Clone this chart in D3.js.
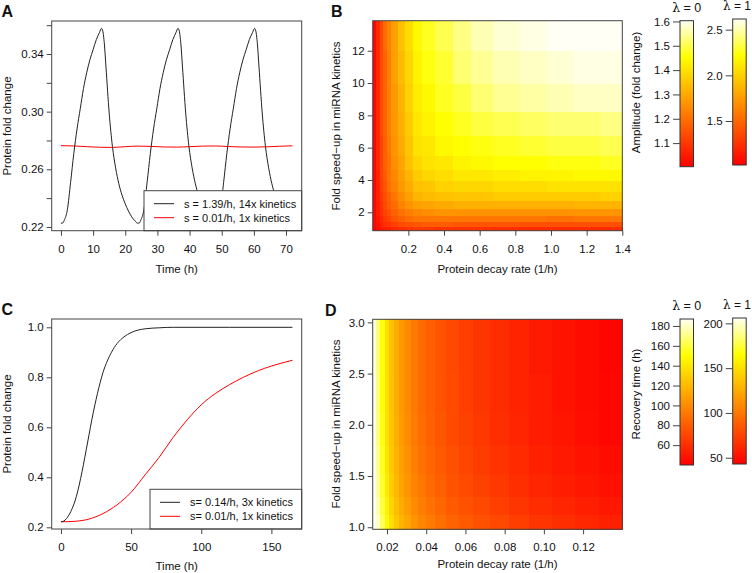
<!DOCTYPE html>
<html>
<head>
<meta charset="utf-8">
<title>miRNA kinetics panels</title>
<script src="https://cdn.jsdelivr.net/npm/d3@7"></script>
<style>
body { margin: 0; background: #fff; }
text { font-family: "Liberation Sans", Arial, Helvetica, sans-serif; font-size: 11.5px; fill: #111; }
.frame { fill: none; stroke: #444; stroke-width: 1; }
.letter { font-weight: bold; font-size: 16px; }
.legtext { font-size: 11px; }
</style>
</head>
<body>
<svg id="fig" width="752" height="573"></svg>
<script>
// ---- panel A: oscillating protein level ----
var aFast = [
  [0,0.2226],[0.6,0.2228],[1,0.2245],[2,0.232],[3,0.251],[4,0.271],[5,0.288],[6,0.302],[7,0.316],[8,0.327],[9,0.336],[10,0.343],[11,0.350],[12,0.355],[12.6,0.3578],[13,0.356],[13.5,0.347],[14,0.331],[15,0.299],[16,0.276],[17,0.261],[18,0.250],[19,0.242],[20,0.236],[21,0.231],[22,0.227],[23,0.2243],
  [23.8,0.2226],[24.4,0.2228],[24.8,0.2245],[25.8,0.232],[26.8,0.251],[27.8,0.271],[28.8,0.288],[29.8,0.302],[30.8,0.316],[31.8,0.327],[32.8,0.336],[33.8,0.343],[34.8,0.350],[35.8,0.355],[36.4,0.3578],[36.8,0.356],[37.3,0.347],[37.8,0.331],[38.8,0.299],[39.8,0.276],[40.8,0.261],[41.8,0.250],[42.8,0.242],[43.8,0.236],[44.8,0.231],[45.8,0.227],[46.8,0.2243],
  [47.6,0.2226],[48.2,0.2228],[48.6,0.2245],[49.6,0.232],[50.6,0.251],[51.6,0.271],[52.6,0.288],[53.6,0.302],[54.6,0.316],[55.6,0.327],[56.6,0.336],[57.6,0.343],[58.6,0.350],[59.6,0.355],[60.2,0.3578],[60.6,0.356],[61.1,0.347],[61.6,0.331],[62.6,0.299],[63.6,0.276],[64.6,0.261],[65.6,0.250],[66.6,0.242],[67.6,0.236],[68.6,0.231],[69.6,0.227],[70.6,0.2243],[71.4,0.2226],[72,0.2228]
];
var aSlow = [[0,0.2764],[4,0.2762],[8,0.2757],[12,0.2753],[16,0.2752],[20,0.2757],[24,0.2761],[28,0.2759],[32,0.2755],[36,0.2754],[40,0.2757],[44,0.2761],[48,0.2762],[52,0.2758],[56,0.2755],[60,0.2754],[64,0.2756],[68,0.2760],[72,0.2763]];
var aXTicks = [0,10,20,30,40,50,60,70];
var aYTicks = [0.22,0.24,0.26,0.28,0.30,0.32,0.34,0.36];
var aYLabels = [0.22,0.26,0.30,0.34];
var aLegend = ["s = 1.39/h, 14x kinetics", "s = 0.01/h, 1x kinetics"];

// ---- panel C: recovery after perturbation ----
var cFast = [[0,0.222],[2,0.225],[4,0.235],[6,0.252],[8,0.275],[10,0.305],[12,0.345],[14,0.395],[16,0.45],[18,0.51],[20,0.57],[22,0.63],[24,0.685],[26,0.735],[28,0.78],[30,0.82],[33,0.865],[36,0.90],[40,0.935],[45,0.962],[50,0.979],[55,0.989],[60,0.994],[70,0.998],[80,1.0],[120,1.0],[165,1.0]];
var cSlow = [[0,0.222],[10,0.224],[20,0.233],[30,0.255],[40,0.29],[50,0.34],[60,0.41],[70,0.48],[80,0.56],[90,0.63],[100,0.69],[110,0.735],[120,0.77],[130,0.80],[140,0.825],[150,0.845],[165,0.868]];
var cXTicks = [0,50,100,150];
var cYTicks = [0.2,0.4,0.6,0.8,1.0];
var cLegend = ["s= 0.14/h, 3x kinetics", "s= 0.01/h, 1x kinetics"];

// ---- panel B: amplitude (fold change), rows from low to high speed-up ----
var bEdgesX = [0,0.02,0.04,0.06,0.08,0.105,0.14,0.18,0.225,0.275,0.35,0.45,0.55,0.675,0.825,0.975,1.125,1.275,1.4];
var bEdgesY = [0.86,1.1,1.42,1.8,2.25,2.75,3.3,3.95,4.65,5.5,6.75,8.25,10,12,13.86];
var bAmp = [
  [1.00,1.02,1.04,1.05,1.06,1.07,1.08,1.09,1.10,1.10,1.09,1.09,1.09,1.08,1.08,1.08,1.08,1.08],
  [1.01,1.03,1.06,1.08,1.09,1.11,1.13,1.14,1.15,1.16,1.16,1.15,1.15,1.15,1.14,1.14,1.14,1.14],
  [1.01,1.04,1.07,1.10,1.12,1.15,1.17,1.19,1.21,1.21,1.21,1.21,1.21,1.21,1.21,1.20,1.21,1.21],
  [1.01,1.05,1.08,1.12,1.14,1.17,1.20,1.22,1.24,1.25,1.26,1.26,1.26,1.26,1.26,1.26,1.26,1.26],
  [1.01,1.05,1.09,1.13,1.16,1.19,1.23,1.26,1.28,1.29,1.30,1.31,1.31,1.31,1.31,1.31,1.32,1.32],
  [1.01,1.06,1.10,1.14,1.17,1.21,1.25,1.28,1.32,1.33,1.34,1.35,1.35,1.36,1.36,1.36,1.36,1.37],
  [1.01,1.06,1.11,1.15,1.19,1.23,1.27,1.30,1.34,1.35,1.37,1.38,1.38,1.39,1.39,1.40,1.40,1.40],
  [1.01,1.06,1.12,1.16,1.20,1.24,1.28,1.32,1.36,1.38,1.39,1.41,1.41,1.42,1.43,1.43,1.44,1.44],
  [1.01,1.07,1.12,1.17,1.20,1.25,1.29,1.34,1.38,1.40,1.41,1.43,1.44,1.45,1.45,1.46,1.46,1.47],
  [1.01,1.07,1.12,1.17,1.21,1.26,1.30,1.35,1.40,1.41,1.44,1.45,1.46,1.47,1.48,1.49,1.49,1.50],
  [1.01,1.07,1.13,1.18,1.22,1.27,1.31,1.36,1.41,1.43,1.45,1.47,1.49,1.50,1.51,1.52,1.52,1.53],
  [1.01,1.07,1.13,1.18,1.22,1.27,1.32,1.37,1.42,1.44,1.47,1.49,1.52,1.54,1.55,1.56,1.57,1.57],
  [1.01,1.07,1.13,1.18,1.22,1.28,1.33,1.38,1.43,1.46,1.48,1.52,1.54,1.56,1.57,1.58,1.59,1.59],
  [1.01,1.07,1.13,1.19,1.23,1.28,1.34,1.39,1.44,1.47,1.50,1.53,1.56,1.58,1.59,1.60,1.60,1.60]
];
var bXTicks = [0.2,0.4,0.6,0.8,1.0,1.2,1.4];
var bYTicks = [2,4,6,8,10,12];
var bBar0 = [1.003,1.603], bBar0Ticks = [1.1,1.2,1.3,1.4,1.5,1.6];
var bBar1 = [1.018,2.617], bBar1Ticks = [1.5,2.0,2.5];

// ---- panel D: recovery time (h), rows from low to high speed-up ----
var dEdgesX = [0.0127,0.0145,0.0165,0.01875,0.02125,0.02375,0.02625,0.02875,0.032,0.036,0.04,0.0445,0.05,0.0565,0.064,0.0725,0.082,0.0925,0.104,0.116,0.128,0.14];
var dEdgesY = [0.98,1.12,1.3,1.52,1.8,2.12,2.5,3.03];
var dTime = [
  [197,180,164,148,136,126,118,112,104,98,93,88,83,79,75,71,67,63,60,57,54],
  [193,176,160,144,132,122,114,108,100,94,89,84,79,75,71,67,63,59,56,53,50],
  [190,173,157,141,129,119,111,105,97,91,86,81,76,72,68,64,60,56,53,50,47],
  [188,171,155,139,127,117,109,103,95,89,84,79,74,70,66,62,58,54,51,48,45],
  [186,169,153,137,125,115,107,101,93,87,82,77,72,68,64,60,56,52,49,46,43],
  [186,168,152,137,124,115,106,100,92,86,81,76,72,67,63,59,55,52,48,45,43],
  [185,168,152,136,124,114,106,100,92,86,81,76,71,67,63,59,55,51,48,45,42]
];
var dXTicks = [0.02,0.04,0.06,0.08,0.10,0.12];
var dYTicks = [1.0,1.5,2.0,2.5,3.0];
var dBar0 = [40,187], dBar0Ticks = [60,80,100,120,140,160,180];
var dBar1 = [43,206], dBar1Ticks = [50,100,150,200];

var svg = d3.select("#fig");

// R style heat.colors: red -> yellow, then yellow -> white
function heat(f) {
  f = Math.max(0, Math.min(1, f));
  if (f <= 0.75) return d3.rgb(255, Math.round(255 * f / 0.75), 0).toString();
  var s = 1 - (f - 0.75) / 0.25 * 0.96;
  return d3.rgb(255, 255, Math.round(255 * (1 - s))).toString();
}

function frame(x, y) {
  svg.append("rect").attr("class", "frame")
    .attr("x", x.range()[0]).attr("y", y.range()[1])
    .attr("width", x.range()[1] - x.range()[0])
    .attr("height", y.range()[0] - y.range()[1]);
}

function axes(x, y, xt, yt, xfmt, yfmt) {
  svg.append("g").attr("transform", "translate(0," + y.range()[0] + ")").attr("color", "#444")
    .call(d3.axisBottom(x).tickValues(xt).tickFormat(xfmt).tickSize(5).tickPadding(9))
    .call(function(a) { a.select(".domain").remove(); });
  svg.append("g").attr("transform", "translate(" + x.range()[0] + ",0)").attr("color", "#444")
    .call(d3.axisLeft(y).tickValues(yt).tickFormat(yfmt).tickSize(5).tickPadding(3))
    .call(function(a) { a.select(".domain").remove(); });
}

function label(txt, x, y, rot) {
  svg.append("text")
    .attr("transform", "translate(" + x + "," + y + ")" + (rot ? " rotate(-90)" : ""))
    .attr("text-anchor", "middle")
    .text(txt);
}

function legend(x0, x1, y0, y1, items, colors) {
  svg.append("rect").attr("x", x0).attr("y", y0).attr("width", x1 - x0).attr("height", y1 - y0)
    .attr("fill", "#fff").attr("stroke", "#444");
  items.forEach(function(t, i) {
    var yy = y0 + 13 + i * 14;
    svg.append("line").attr("x1", x0 + 10).attr("x2", x0 + 30).attr("y1", yy).attr("y2", yy)
      .attr("stroke", colors[i]).attr("stroke-width", 1);
    svg.append("text").attr("class", "legtext").attr("x", x0 + 40).attr("y", yy).attr("dy", "0.35em").text(t);
  });
}

function heatmap(x, y, ex, ey, vals, dom) {
  var g = svg.append("g").attr("shape-rendering", "crispEdges");
  vals.forEach(function(row, i) {
    row.forEach(function(v, j) {
      g.append("rect")
        .attr("x", x(ex[j])).attr("y", y(ey[i + 1]))
        .attr("width", x(ex[j + 1]) - x(ex[j]) + 0.5)
        .attr("height", y(ey[i]) - y(ey[i + 1]) + 0.5)
        .attr("fill", heat((v - dom[0]) / (dom[1] - dom[0])));
    });
  });
}

var gradDone = false;
function colorbar(x0, y0, y1, dom, ticks, fmt, title, edge) {
  if (!gradDone) {
    var lg = svg.append("defs").append("linearGradient").attr("id", "heatgrad")
      .attr("x1", 0).attr("y1", 1).attr("x2", 0).attr("y2", 0);
    d3.range(0, 1.0001, 0.05).forEach(function(f) {
      lg.append("stop").attr("offset", f).attr("stop-color", heat(f));
    });
    gradDone = true;
  }
  var w = 13.5;
  var s = d3.scaleLinear().domain(dom).range([y1, y0]);
  svg.append("rect").attr("x", x0).attr("y", y0).attr("width", w).attr("height", y1 - y0)
    .attr("fill", "url(#heatgrad)").attr("stroke", "#333").attr("stroke-width", 1);
  svg.append("g").attr("transform", "translate(" + x0 + ",0)").attr("color", "#444")
    .call(d3.axisLeft(s).tickValues(ticks).tickFormat(fmt).tickSize(7).tickPadding(3))
    .call(function(a) { a.select(".domain").remove(); });
  // the right bar sits at the page edge, so its title is pulled in
  var t = svg.append("text")
    .attr("x", edge ? 751 : x0 + w / 2).attr("y", y0 - 9)
    .attr("text-anchor", edge ? "end" : "middle")
    .style("font-size", edge ? "12px" : "12.5px");
  t.append("tspan").style("font-family", "'DejaVu Serif', serif").text("λ");
  t.append("tspan").text(" = " + title);
}

var line = function(x, y) {
  return d3.line().x(function(d) { return x(d[0]); }).y(function(d) { return y(d[1]); }).curve(d3.curveMonotoneX);
};

// ===== A =====
var ax = d3.scaleLinear().domain([-2.88, 74.88]).range([51.7, 301.7]);
var ay = d3.scaleLinear().domain([0.2174, 0.3629]).range([230.7, 21]);
svg.append("path").datum(aSlow).attr("d", line(ax, ay)).attr("fill", "none").attr("stroke", "#f00").attr("stroke-width", 1);
svg.append("path").datum(aFast).attr("d", line(ax, ay)).attr("fill", "none").attr("stroke", "#222").attr("stroke-width", 1);
legend(144, 301.7, 190.7, 230.7, aLegend, ["#222", "#f00"]);
frame(ax, ay);
axes(ax, ay, aXTicks, aYTicks, d3.format("d"), function(d) {
  return aYLabels.some(function(v) { return Math.abs(v - d) < 1e-9; }) ? d3.format(".2f")(d) : "";
});
label("Time (h)", 176.7, 272.5);
label("Protein fold change", 10.5, 126, true);
svg.append("text").attr("class", "letter").attr("x", 1.5).attr("y", 16.7).text("A");

// ===== B =====
var bx = d3.scaleLinear().domain([0, 1.4]).range([372.7, 622.3]);
var by = d3.scaleLinear().domain([0.86, 13.86]).range([230.7, 20.7]);
heatmap(bx, by, bEdgesX, bEdgesY, bAmp, [1.0, 1.6]);
frame(bx, by);
axes(bx, by, bXTicks, bYTicks, d3.format(".1f"), d3.format("d"));
label("Protein decay rate (1/h)", 497.5, 273);
label("Fold speed\u2212up in miRNA kinetics", 340, 126, true);
svg.append("text").attr("class", "letter").attr("x", 331).attr("y", 16.7).text("B");
colorbar(680, 20.7, 166.7, bBar0, bBar0Ticks, d3.format(".1f"), "0", false);
colorbar(732.7, 19, 165, bBar1, bBar1Ticks, d3.format(".1f"), "1", true);
label("Amplitude (fold change)", 640, 92.5, true);

// ===== C =====
var cx = d3.scaleLinear().domain([-6.6, 171.6]).range([51.7, 301.7]);
var cy = d3.scaleLinear().domain([0.1932, 1.0332]).range([529, 319]);
svg.append("path").datum(cSlow).attr("d", line(cx, cy)).attr("fill", "none").attr("stroke", "#f00").attr("stroke-width", 1);
svg.append("path").datum(cFast).attr("d", line(cx, cy)).attr("fill", "none").attr("stroke", "#222").attr("stroke-width", 1);
legend(150, 301.7, 489.3, 529, cLegend, ["#222", "#f00"]);
frame(cx, cy);
axes(cx, cy, cXTicks, cYTicks, d3.format("d"), d3.format(".1f"));
label("Time (h)", 176.7, 570);
label("Protein fold change", 10.5, 424, true);
svg.append("text").attr("class", "letter").attr("x", 1.5).attr("y", 315).text("C");

// ===== D =====
var dx = d3.scaleLinear().domain([0.0127, 0.14]).range([372.7, 622.3]);
var dy = d3.scaleLinear().domain([0.98, 3.03]).range([529.3, 319.3]);
heatmap(dx, dy, dEdgesX, dEdgesY, dTime, dBar0);
frame(dx, dy);
axes(dx, dy, dXTicks, dYTicks, d3.format(".2f"), d3.format(".1f"));
label("Protein decay rate (1/h)", 497.5, 568);
label("Fold speed\u2212up in miRNA kinetics", 340, 424, true);
svg.append("text").attr("class", "letter").attr("x", 325).attr("y", 316).text("D");
colorbar(680, 319, 465, dBar0, dBar0Ticks, d3.format("d"), "0", false);
colorbar(732.7, 318, 464, dBar1, dBar1Ticks, d3.format("d"), "1", true);
label("Recovery time (h)", 640, 394, true);
</script>
</body>
</html>
